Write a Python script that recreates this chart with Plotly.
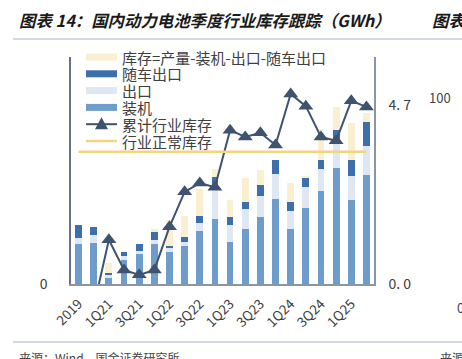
import plotly.graph_objects as go

categories = ["2019", "2020", "1Q21", "2Q21", "3Q21", "4Q21", "1Q22", "2Q22", "3Q22", "4Q22",
              "1Q23", "2Q23", "3Q23", "4Q23", "1Q24", "2Q24", "3Q24", "4Q24", "1Q25", "2Q25"]
tick_labels = ["2019", "1Q21", "3Q21", "1Q22", "3Q22", "1Q23", "3Q23", "1Q24", "3Q24", "1Q25"]

installed = [48, 49, 7, 29, 36, 48, 39, 46, 64, 78, 50, 66, 80, 102, 66, 91, 112, 139, 101, 131]
export = [7, 10, 4, 5, 4, 5, 4, 5, 9, 38, 21, 24, 26, 30, 22, 25, 26, 35, 29, 35]
vehicle_export = [16, 9, 2, 5, 8, 9, 3, 5, 9, 12, 10, 9, 13, 17, 11, 11, 11, 11, 19, 28]
inventory = [0, 0, 12, 0, 0, 4, 31, 26, 32, 10, 20, 28, 18, 0, 22, 3, 37, 27, 44, 11]
cumulative_inventory = [None, -0.6, 1.16, 0.37, 0.24, 0.37, 1.50, 2.42, 2.65, 2.54,
                        4.04, 3.86, 3.97, 3.65, 4.99, 4.67, 3.86, 3.76, 4.81, 4.65]
normal_inventory = [3.47] * len(categories)

C_INST = "#6f9dcb"
C_EXP = "#dfe7f3"
C_VEH = "#3d6fac"
C_INV = "#fbefd1"
C_LINE = "#3f5270"
C_NORM = "#f3d481"

L, R, T, B = 71, 374, 57, 284
W, H = 462, 359


def px(x):
    return (x - L) / (R - L)


def py(y):
    return (B - y) / (B - T)


fig = go.Figure()

bar_specs = [("装机", installed, C_INST), ("出口", export, C_EXP),
             ("随车出口", vehicle_export, C_VEH), ("库存=产量-装机-出口-随车出口", inventory, C_INV)]
for name, vals, col in bar_specs:
    fig.add_trace(go.Bar(x=categories, y=vals, name=name, marker_color=col,
                         marker_line_width=0, showlegend=False, yaxis="y"))

fig.add_trace(go.Scatter(x=categories, y=cumulative_inventory, name="累计行业库存", yaxis="y2",
                         mode="lines+markers", line=dict(color=C_LINE, width=2),
                         marker=dict(symbol="triangle-up", size=13, color=C_LINE),
                         connectgaps=False, showlegend=False))
fig.add_trace(go.Scatter(x=categories, y=normal_inventory, name="行业正常库存", yaxis="y2",
                         mode="lines", line=dict(color=C_NORM, width=2.5), showlegend=False))

font_main = "Noto Sans CJK SC"
ann = []
shapes = []


def add_text(text, x, y, size, color="#444", xanchor="left", bold=False, italic=False):
    ann.append(dict(text=("<b>%s</b>" % text) if bold else text, x=px(x), y=py(y),
                    xref="paper", yref="paper", xanchor=xanchor, yanchor="middle", showarrow=False,
                    font=dict(size=size, color=color, family=font_main,
                              style="italic" if italic else "normal")))


add_text("图表 14：国内动力电池季度行业库存跟踪（GWh）", 17, 20, 16.4, "#1a1a1a", bold=True, italic=True)
add_text("图表1", 430, 20, 16.4, "#1a1a1a", bold=True, italic=True)
add_text("100", 440, 97, 13, "#444", xanchor="center")
add_text("0", 455, 307, 13, "#444")
add_text("来源：Wind，国金证券研究所", 17, 357, 12, "#444")
add_text("来源", 438, 357, 12, "#444")

for yy in (39, 342):
    shapes.append(dict(type="line", xref="paper", yref="paper", x0=px(13), x1=px(462),
                       y0=py(yy), y1=py(yy), line=dict(color="#a7b6c8", width=1.2)))

# manual legend (rows 17 px apart, like the reference)
legend_rows = [("库存=产量-装机-出口-随车出口", "bar", C_INV),
               ("随车出口", "bar", C_VEH),
               ("出口", "bar", C_EXP),
               ("装机", "bar", C_INST),
               ("累计行业库存", "tri", C_LINE),
               ("行业正常库存", "line", C_NORM)]
sx0, sx1, tx = 86, 117, 120
for i, (label, kind, col) in enumerate(legend_rows):
    yy = 57 + i * 16.8
    if kind == "bar":
        shapes.append(dict(type="rect", xref="paper", yref="paper", x0=px(sx0), x1=px(sx1),
                           y0=py(yy - 3.5), y1=py(yy + 3.5), fillcolor=col, line=dict(width=0)))
    else:
        shapes.append(dict(type="line", xref="paper", yref="paper", x0=px(sx0), x1=px(sx1),
                           y0=py(yy), y1=py(yy), line=dict(color=col, width=2.5 if kind == "line" else 2)))
        if kind == "tri":
            cx = (sx0 + sx1) / 2
            path = "M %f,%f L %f,%f L %f,%f Z" % (px(cx - 6.5), py(yy + 5), px(cx + 6.5), py(yy + 5),
                                                 px(cx), py(yy - 7))
            shapes.append(dict(type="path", xref="paper", yref="paper", path=path,
                               fillcolor=col, line=dict(width=0)))
    add_text(label, tx, yy, 15, "#404040")

fig.update_layout(
    width=W, height=H,
    margin=dict(l=L, r=W - R, t=T, b=H - B, pad=0),
    paper_bgcolor="white", plot_bgcolor="white",
    barmode="stack", bargap=0.55,
    font=dict(family=font_main, color="#404040"),
    showlegend=False,
    xaxis=dict(type="category", categoryorder="array", categoryarray=categories,
               tickmode="array", tickvals=tick_labels, ticktext=tick_labels, tickangle=-45,
               showline=True, linecolor="#8a95a8", linewidth=1.5, ticks="", showgrid=False,
               tickfont=dict(size=13.5, color="#404040"), range=[-0.5, 19.5], automargin=False,
               ticklabelstandoff=5),
    yaxis=dict(range=[0, 272.4], tickmode="array", tickvals=[0], ticktext=["0"], showgrid=False,
               showline=True, linecolor="#66718a", linewidth=1.5, ticks="", zeroline=False,
               tickfont=dict(size=14, color="#404040"), ticklabelstandoff=19, automargin=False),
    yaxis2=dict(range=[0, 5.96], overlaying="y", side="right", tickmode="array", tickvals=[0, 4.7],
                ticktext=["0. 0", "4. 7"], showgrid=False, showline=True, linecolor="#8a95a8",
                linewidth=1.5, ticks="", zeroline=False, tickfont=dict(size=14, color="#404040"),
                ticklabelstandoff=10, automargin=False),
    annotations=ann, shapes=shapes,
)

fig.write_html("out.html", config={"displayModeBar": False},
               post_script="document.body.style.margin='0px';")
